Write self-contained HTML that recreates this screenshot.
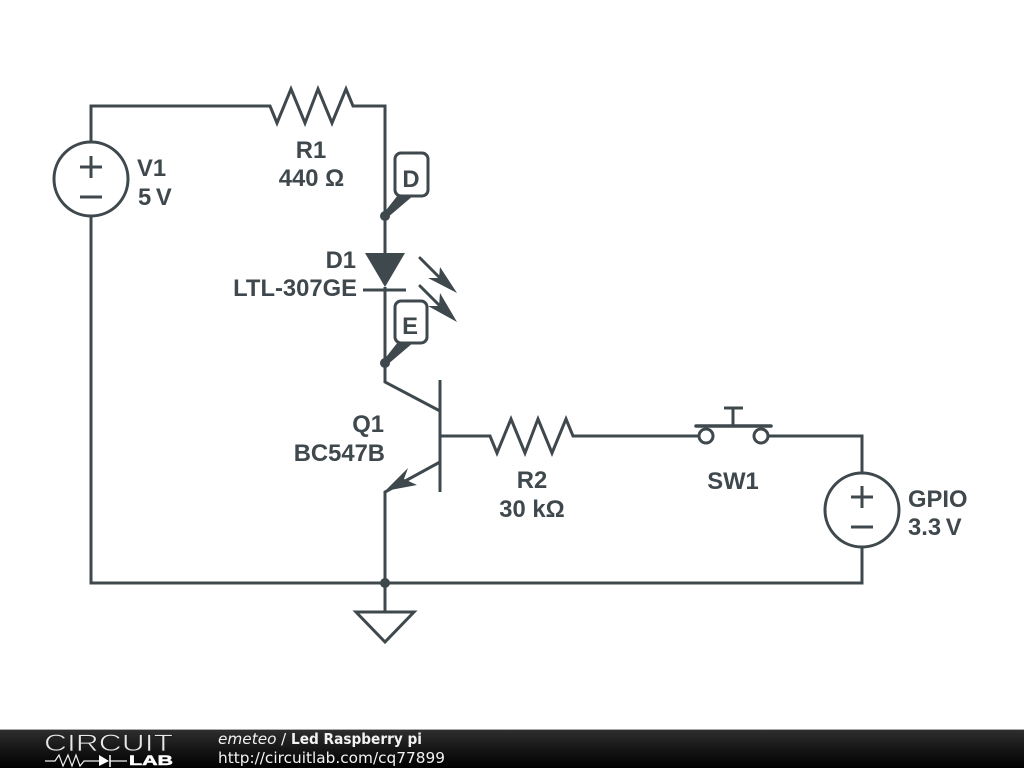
<!DOCTYPE html>
<html>
<head>
<meta charset="utf-8">
<title>Led Raspberry pi</title>
<style>
html,body{margin:0;padding:0;background:#fff;width:1024px;height:768px;overflow:hidden}
svg{display:block}
.w{fill:none;stroke:#3f484d;stroke-width:3;stroke-linejoin:miter}
.f{fill:#3f484d;stroke:none}
.t{font-family:"Liberation Sans",sans-serif;font-weight:bold;font-size:23.8px;fill:#3f484d}
.m{text-anchor:middle}
.e{text-anchor:end}
.ft{font-family:"DejaVu Sans",sans-serif;font-size:15.3px;fill:#f2f2f2}
</style>
</head>
<body>
<svg width="1024" height="768" viewBox="0 0 1024 768" xmlns="http://www.w3.org/2000/svg">
<defs>
<linearGradient id="g" x1="0" y1="0" x2="0" y2="1">
<stop offset="0" stop-color="#2e2e2e"/>
<stop offset="0.5" stop-color="#161616"/>
<stop offset="1" stop-color="#000"/>
</linearGradient>
</defs>
<rect width="1024" height="768" fill="#fff"/>

<!-- Wires -->
<path class="w" d="M91 142V106H270L277 123L291 89L305 123L318 89L332 123L346 89L353 106H385V253"/>
<path class="w" d="M91 216V583H862V547"/>
<path class="w" d="M385 287V382L440 411"/>
<path class="w" d="M440 462L385 492V583"/>
<path class="w" d="M440 380V492"/>
<path class="w" d="M440 436H490L497 453L511 419L525 453L538 419L552 453L566 419L573 436H699"/>
<path class="w" d="M768 436H862V473"/>

<!-- V1 -->
<circle class="w" cx="91" cy="179" r="37"/>
<path class="w" d="M80 167H102M91 156V178M80 197H102"/>

<!-- GPIO -->
<circle class="w" cx="862" cy="510" r="37"/>
<path class="w" d="M851 497H873M862 486V508M851 527H873"/>

<!-- Diode -->
<polygon class="f" points="365,253 405,253 385,287"/>
<path class="w" d="M363 290H406"/>
<path class="w" stroke-linecap="round" d="M420 258L441 279M420 286L441 307"/>
<polygon class="f" points="457,293 440,267 439,278 428,278"/>
<polygon class="f" points="457,322 440,293 439,306 428,306"/>

<!-- Transistor arrow -->
<polygon class="f" points="385,491 408,468 404,479 417,485"/>

<!-- Switch -->
<circle class="w" cx="706" cy="436" r="7"/>
<circle class="w" cx="761" cy="436" r="7"/>
<path d="M696 426H771" fill="none" stroke="#3f484d" stroke-width="3.5" stroke-linecap="round"/>
<path class="w" d="M733 426V408M724 408H743"/>

<!-- Ground -->
<path class="w" d="M385 583V612"/>
<polygon class="w" points="356,612 414,612 385,642"/>

<!-- Nodes -->
<circle class="f" cx="385" cy="216" r="5"/>
<circle class="f" cx="385" cy="363" r="5"/>
<circle class="f" cx="385" cy="583" r="5"/>

<!-- Probes -->
<polygon class="f" points="383,214 398,195 414,195 387,218"/>
<rect x="395" y="153" width="33" height="43" rx="6" fill="#fff" stroke="#3f484d" stroke-width="3"/>
<text class="t m" x="411" y="187">D</text>
<polygon class="f" points="383,361 398,342 414,342 387,365"/>
<rect x="395" y="301" width="32" height="42" rx="6" fill="#fff" stroke="#3f484d" stroke-width="3"/>
<text class="t m" x="410" y="334">E</text>

<!-- Labels -->
<text class="t" x="137" y="176">V1</text>
<text class="t" x="138" y="205" word-spacing="-2">5 V</text>
<text class="t m" x="311" y="158">R1</text>
<text class="t m" x="311.5" y="186">440 Ω</text>
<text class="t e" x="356" y="268">D1</text>
<text class="t e" x="357" y="296">LTL-307GE</text>
<text class="t e" x="384" y="432">Q1</text>
<text class="t e" x="385" y="461">BC547B</text>
<text class="t m" x="532" y="488">R2</text>
<text class="t m" x="532" y="517">30 kΩ</text>
<text class="t m" x="733" y="489">SW1</text>
<text class="t" x="908" y="507">GPIO</text>
<text class="t" x="908" y="535" word-spacing="-2">3.3 V</text>

<!-- Footer -->
<rect x="0" y="730" width="1024" height="38" fill="url(#g)"/>
<rect x="0" y="729" width="1024" height="1" fill="#aaa"/>
<text x="44" y="751" font-family="'Liberation Sans',sans-serif" font-size="24" textLength="129" lengthAdjust="spacingAndGlyphs" fill="#e8e8e8" stroke="#1e1e1e" stroke-width="0.7">CIRCUIT</text>
<path d="M45 761H55L59 755L63 766L68 755L72 766L76 755L80 766L84 761H99M110 761H127" fill="none" stroke="#eee" stroke-width="1.2"/>
<polygon points="99,755 109,761 99,766" fill="#fff"/>
<path d="M110 755V767" stroke="#fff" stroke-width="1.5"/>
<text x="129" y="765" font-family="'Liberation Sans',sans-serif" font-weight="bold" font-size="13.5" textLength="44" lengthAdjust="spacingAndGlyphs" fill="#fff" stroke="#fff" stroke-width="0.5">LAB</text>
<text class="ft" x="218" y="744" font-style="italic">emeteo</text>
<text class="ft" x="281" y="744">/</text>
<text class="ft" x="291" y="744" font-weight="bold" font-size="14.5" textLength="131" lengthAdjust="spacingAndGlyphs">Led Raspberry pi</text>
<text class="ft" x="218" y="763" textLength="227" lengthAdjust="spacingAndGlyphs">http://circuitlab.com/cq77899</text>
</svg>
</body>
</html>
